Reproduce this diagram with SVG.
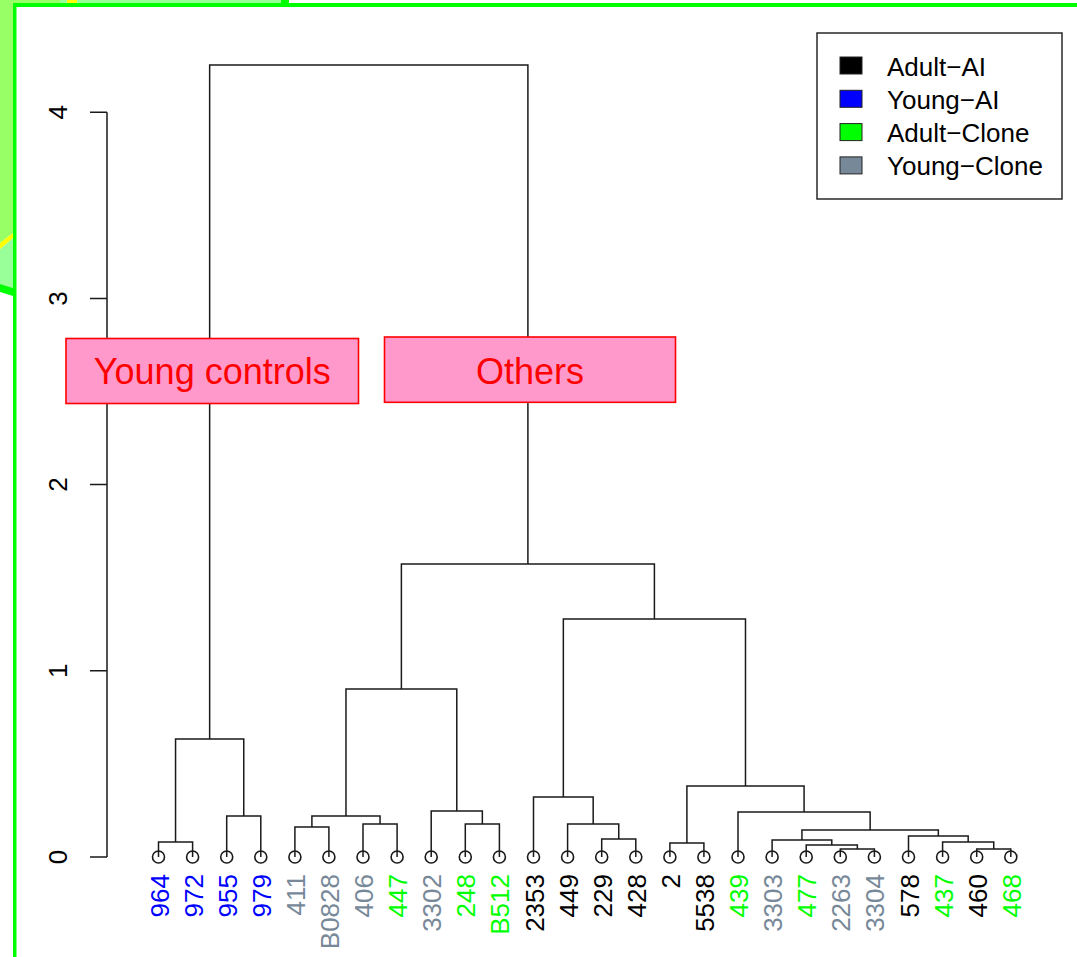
<svg xmlns="http://www.w3.org/2000/svg" width="1077" height="957" viewBox="0 0 1077 957">
  <style>
    text { font-family: "Liberation Sans", Arial, sans-serif; }
    .tick { font-size: 26px; fill: #000; text-anchor: middle; }
    .leaf { font-size: 26px; text-anchor: end; }
    .leg { font-size: 26px; fill: #000; }
    .br { fill: none; stroke: #1a1a1a; stroke-width: 1.5; }
    .pt { fill: none; stroke: #1a1a1a; stroke-width: 1.6; }
    .ax { fill: none; stroke: #1a1a1a; stroke-width: 1.5; }
    .tag { fill: #FF99CC; stroke: #FF0000; stroke-width: 1.6; }
    .tagtxt { font-size: 36px; fill: #FF0000; text-anchor: middle; }
    .aa { fill: #000000; } .ya { fill: #0000FF; } .ac { fill: #00FF00; } .yc { fill: #778899; }
  </style>

  <!-- page background and slide frame -->
  <rect x="0" y="0" width="1077" height="957" fill="#FFFFFF"/>
  <g id="frame">
    <polygon points="0,0 13,0 13,233 0,243" fill="#99FF66"/>
    <polygon points="0,249 13,238 13,288 0,284" fill="#99FF99"/>
    <polygon points="0,243 13,233 13,238 0,249" fill="#FFFF00"/>
    <polygon points="0,284 13,288 13,296 0,292" fill="#00FF00"/>
    <rect x="13" y="0" width="47" height="3" fill="#99FF66"/>
    <rect x="60" y="0" width="221" height="3" fill="#99FF99"/>
    <rect x="67" y="0" width="10" height="3" fill="#FFFF00"/>
    <rect x="281" y="0" width="8" height="7" fill="#00FF00"/>
    <rect x="13" y="3" width="1064" height="4" fill="#00FF00"/>
    <rect x="13" y="3" width="3.5" height="954" fill="#00FF00"/>
  </g>

  <!-- height axis -->
  <g id="axis">
    <path class="ax" d="M107 112.2 V857 M90 112.2 H107 M90 298.4 H107 M90 484.6 H107 M90 670.8 H107 M90 857 H107"/>
    <text class="tick" transform="translate(67,857) rotate(-90)">0</text>
    <text class="tick" transform="translate(67,670.8) rotate(-90)">1</text>
    <text class="tick" transform="translate(67,484.6) rotate(-90)">2</text>
    <text class="tick" transform="translate(67,298.4) rotate(-90)">3</text>
    <text class="tick" transform="translate(67,112.2) rotate(-90)">4</text>
  </g>

  <!-- dendrogram branches -->
  <g id="connectors">
    <path class="br" d="M158.5 857 V842 H192.6 V857"/>
    <path class="br" d="M226.7 857 V816 H260.8 V857"/>
    <path class="br" d="M175.55 842 V739 H243.75 V816"/>
    <path class="br" d="M294.9 857 V827 H328.9 V857"/>
    <path class="br" d="M363.0 857 V824 H397.1 V857"/>
    <path class="br" d="M311.9 827 V816 H380.05 V824"/>
    <path class="br" d="M465.3 857 V824 H499.4 V857"/>
    <path class="br" d="M431.2 857 V811 H482.35 V824"/>
    <path class="br" d="M345.98 816 V689 H456.78 V811"/>
    <path class="br" d="M601.7 857 V839 H635.8 V857"/>
    <path class="br" d="M567.6 857 V824 H618.75 V839"/>
    <path class="br" d="M533.5 857 V797 H593.18 V824"/>
    <path class="br" d="M669.9 857 V843 H703.9 V857"/>
    <path class="br" d="M840.3 857 V849 H874.4 V857"/>
    <path class="br" d="M806.2 857 V845 H857.35 V849"/>
    <path class="br" d="M772.1 857 V840 H831.78 V845"/>
    <path class="br" d="M976.7 857 V849 H1010.8 V857"/>
    <path class="br" d="M942.6 857 V842 H993.75 V849"/>
    <path class="br" d="M908.5 857 V836 H968.18 V842"/>
    <path class="br" d="M801.94 840 V830 H938.34 V836"/>
    <path class="br" d="M738.0 857 V812 H870.14 V830"/>
    <path class="br" d="M686.9 843 V786 H804.07 V812"/>
    <path class="br" d="M563.34 797 V619 H745.49 V786"/>
    <path class="br" d="M401.38 689 V564 H654.41 V619"/>
    <path class="br" d="M209.65 739 V65 H527.9 V564"/>
  </g>

  <!-- leaves: point marker plus label -->
  <g id="leaf-964"><circle class="pt" cx="158.5" cy="857" r="6"/><text class="leaf ya" transform="translate(168.5,874) rotate(-90)">964</text></g>
  <g id="leaf-972"><circle class="pt" cx="192.6" cy="857" r="6"/><text class="leaf ya" transform="translate(202.6,874) rotate(-90)">972</text></g>
  <g id="leaf-955"><circle class="pt" cx="226.7" cy="857" r="6"/><text class="leaf ya" transform="translate(236.7,874) rotate(-90)">955</text></g>
  <g id="leaf-979"><circle class="pt" cx="260.8" cy="857" r="6"/><text class="leaf ya" transform="translate(270.8,874) rotate(-90)">979</text></g>
  <g id="leaf-411"><circle class="pt" cx="294.9" cy="857" r="6"/><text class="leaf yc" transform="translate(304.9,874) rotate(-90)">411</text></g>
  <g id="leaf-B0828"><circle class="pt" cx="328.9" cy="857" r="6"/><text class="leaf yc" transform="translate(338.9,874) rotate(-90)">B0828</text></g>
  <g id="leaf-406"><circle class="pt" cx="363.0" cy="857" r="6"/><text class="leaf yc" transform="translate(373.0,874) rotate(-90)">406</text></g>
  <g id="leaf-447"><circle class="pt" cx="397.1" cy="857" r="6"/><text class="leaf ac" transform="translate(407.1,874) rotate(-90)">447</text></g>
  <g id="leaf-3302"><circle class="pt" cx="431.2" cy="857" r="6"/><text class="leaf yc" transform="translate(441.2,874) rotate(-90)">3302</text></g>
  <g id="leaf-248"><circle class="pt" cx="465.3" cy="857" r="6"/><text class="leaf ac" transform="translate(475.3,874) rotate(-90)">248</text></g>
  <g id="leaf-B512"><circle class="pt" cx="499.4" cy="857" r="6"/><text class="leaf ac" transform="translate(509.4,874) rotate(-90)">B512</text></g>
  <g id="leaf-2353"><circle class="pt" cx="533.5" cy="857" r="6"/><text class="leaf aa" transform="translate(543.5,874) rotate(-90)">2353</text></g>
  <g id="leaf-449"><circle class="pt" cx="567.6" cy="857" r="6"/><text class="leaf aa" transform="translate(577.6,874) rotate(-90)">449</text></g>
  <g id="leaf-229"><circle class="pt" cx="601.7" cy="857" r="6"/><text class="leaf aa" transform="translate(611.7,874) rotate(-90)">229</text></g>
  <g id="leaf-428"><circle class="pt" cx="635.8" cy="857" r="6"/><text class="leaf aa" transform="translate(645.8,874) rotate(-90)">428</text></g>
  <g id="leaf-2"><circle class="pt" cx="669.9" cy="857" r="6"/><text class="leaf aa" transform="translate(679.9,874) rotate(-90)">2</text></g>
  <g id="leaf-5538"><circle class="pt" cx="703.9" cy="857" r="6"/><text class="leaf aa" transform="translate(713.9,874) rotate(-90)">5538</text></g>
  <g id="leaf-439"><circle class="pt" cx="738.0" cy="857" r="6"/><text class="leaf ac" transform="translate(748.0,874) rotate(-90)">439</text></g>
  <g id="leaf-3303"><circle class="pt" cx="772.1" cy="857" r="6"/><text class="leaf yc" transform="translate(782.1,874) rotate(-90)">3303</text></g>
  <g id="leaf-477"><circle class="pt" cx="806.2" cy="857" r="6"/><text class="leaf ac" transform="translate(816.2,874) rotate(-90)">477</text></g>
  <g id="leaf-2263"><circle class="pt" cx="840.3" cy="857" r="6"/><text class="leaf yc" transform="translate(850.3,874) rotate(-90)">2263</text></g>
  <g id="leaf-3304"><circle class="pt" cx="874.4" cy="857" r="6"/><text class="leaf yc" transform="translate(884.4,874) rotate(-90)">3304</text></g>
  <g id="leaf-578"><circle class="pt" cx="908.5" cy="857" r="6"/><text class="leaf aa" transform="translate(918.5,874) rotate(-90)">578</text></g>
  <g id="leaf-437"><circle class="pt" cx="942.6" cy="857" r="6"/><text class="leaf ac" transform="translate(952.6,874) rotate(-90)">437</text></g>
  <g id="leaf-460"><circle class="pt" cx="976.7" cy="857" r="6"/><text class="leaf aa" transform="translate(986.7,874) rotate(-90)">460</text></g>
  <g id="leaf-468"><circle class="pt" cx="1010.8" cy="857" r="6"/><text class="leaf ac" transform="translate(1020.8,874) rotate(-90)">468</text></g>

  <!-- cluster tags -->
  <g id="tag-young-controls">
    <rect class="tag" x="66" y="338.5" width="292.5" height="65"/>
    <text class="tagtxt" x="212.3" y="384.3">Young controls</text>
  </g>
  <g id="tag-others">
    <rect class="tag" x="384.5" y="337" width="291" height="65.3"/>
    <text class="tagtxt" x="530" y="383.5">Others</text>
  </g>

  <!-- legend -->
  <g id="legend">
    <rect x="817" y="33" width="245" height="166" fill="#FFFFFF" stroke="#1a1a1a" stroke-width="1.4"/>
    <rect x="840" y="57" width="22" height="17" fill="#000000" stroke="#222" stroke-width="1"/>
    <rect x="840" y="90.3" width="22" height="17" fill="#0000FF" stroke="#222" stroke-width="1"/>
    <rect x="840" y="123.6" width="22" height="17" fill="#00FF00" stroke="#222" stroke-width="1"/>
    <rect x="840" y="156.9" width="22" height="17" fill="#778899" stroke="#222" stroke-width="1"/>
    <text class="leg" x="887" y="75.5">Adult−AI</text>
    <text class="leg" x="887" y="108.8">Young−AI</text>
    <text class="leg" x="887" y="142.1">Adult−Clone</text>
    <text class="leg" x="887" y="175.4">Young−Clone</text>
  </g>
</svg>
